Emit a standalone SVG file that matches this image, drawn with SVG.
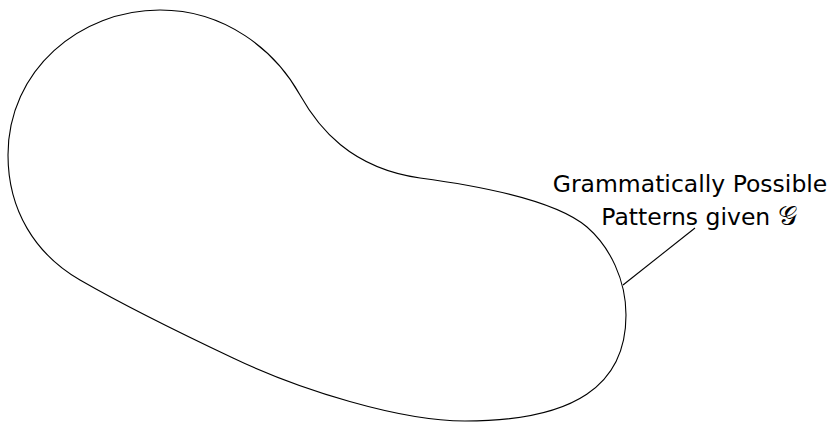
<svg xmlns="http://www.w3.org/2000/svg" width="839" height="422" viewBox="0 0 839 422">
<style>
.outline{fill:none;stroke:#000;stroke-width:1.1}
.lbl{font-family:"DejaVu Sans","Liberation Sans",sans-serif;font-size:23.5px;fill:#000}
</style>
<rect width="839" height="422" fill="#fff"/>
<g id="blob">
<path class="outline" d="M160,10 C225,10 275,50 300,95 C318,127 350,168 420,178 C480,186 555,200 587,227 C610,247 626,280 626,315 C626,385 575,421 465,421 C400,421 300,390 233,358 C180,333 120,303 80,280 C35,254 8,210 8,155 C8,70 80,10 160,10 Z"/>
</g>
<g id="connectors">
<line class="outline" x1="623" y1="285" x2="695" y2="228"/>
</g>
<g id="label">
<text class="lbl" x="690" y="192" text-anchor="middle">Grammatically Possible</text>
<text class="lbl" x="699" y="225" text-anchor="middle">Patterns given <tspan font-size="27">𝒢</tspan></text>
</g>
</svg>
